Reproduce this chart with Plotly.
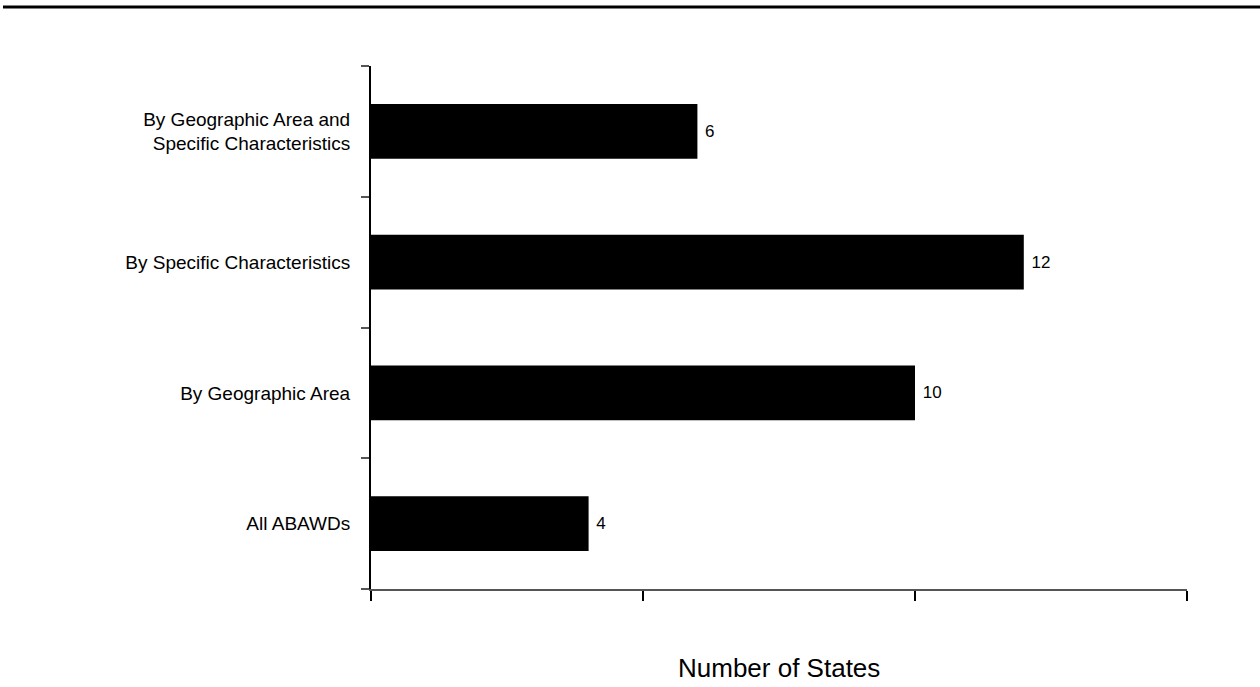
import plotly.graph_objects as go

# Categories listed bottom to top
categories = [
    "All ABAWDs",
    "By Geographic Area",
    "By Specific Characteristics",
    "By Geographic Area and<br>Specific Characteristics",
]
states = [4, 10, 12, 6]
x_ticks = [0, 5, 10, 15]

FONT = "Liberation Sans, Arial, sans-serif"

fig = go.Figure(
    go.Bar(
        y=categories,
        x=states,
        orientation="h",
        width=0.42,
        marker=dict(color="black", line=dict(width=0)),
        texttemplate=" %{x}",
        textposition="outside",
        textfont=dict(family=FONT, size=17, color="black"),
        cliponaxis=False,
    )
)

fig.update_layout(
    width=1260,
    height=687,
    margin=dict(l=371, r=73, t=66, b=98),
    paper_bgcolor="white",
    plot_bgcolor="white",
    showlegend=False,
    font=dict(family=FONT, color="black"),
    xaxis=dict(
        range=[0, 15],
        tickvals=x_ticks,
        showticklabels=False,
        ticks="outside",
        ticklen=10,
        tickwidth=2,
        tickcolor="black",
        showline=True,
        linecolor="#555555",
        linewidth=2,
        showgrid=False,
        zeroline=False,
        fixedrange=True,
    ),
    yaxis=dict(
        type="category",
        categoryorder="array",
        categoryarray=categories,
        tickson="boundaries",
        ticks="outside",
        ticklen=8,
        tickwidth=2,
        tickcolor="#555555",
        ticklabelstandoff=15,
        tickfont=dict(family=FONT, size=19, color="black"),
        showline=True,
        linecolor="black",
        linewidth=2,
        showgrid=False,
        zeroline=False,
        fixedrange=True,
    ),
    annotations=[
        dict(
            text="Number of States",
            xref="paper",
            yref="paper",
            x=0.5,
            y=-0.151,
            xanchor="center",
            yanchor="middle",
            showarrow=False,
            font=dict(family=FONT, size=26, color="black"),
        )
    ],
    shapes=[
        dict(
            type="line",
            xref="paper",
            yref="paper",
            x0=-0.451,
            x1=1.09,
            y0=1.1128,
            y1=1.1128,
            line=dict(color="black", width=3),
        )
    ],
)

fig.write_html("out.html")
